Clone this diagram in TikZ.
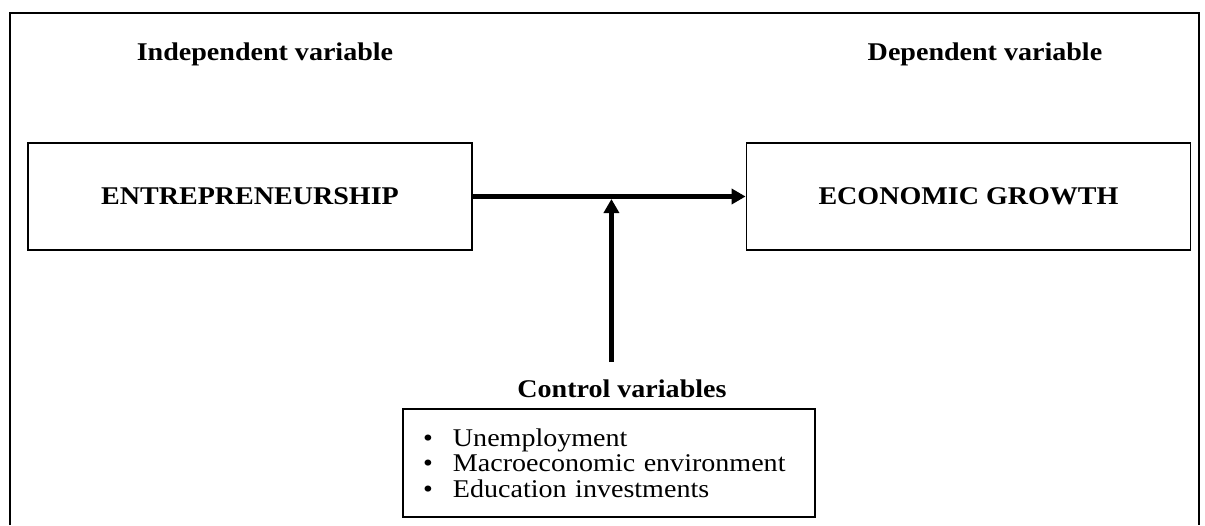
\documentclass[tikz,border=0pt]{standalone}
\usepackage{fontspec}
\setmainfont[FakeStretch=1.1]{Liberation Serif}
\usepackage{tikz}
\usetikzlibrary{
    calc,                   % Midpoint of the main arrow.
    arrows.meta,            % Triangle arrow tips.
    positioning
}

\begin{document}
\begin{tikzpicture}[x=1pt, y=-1pt, line width=1.8pt,
        varbox/.style={draw, minimum width=444pt, minimum height=107pt,
            font=\fontsize{25.5}{25.5}\selectfont\bfseries},
        heading/.style={anchor=base, font=\fontsize{25.5}{25.5}\selectfont\bfseries},
        flow/.style={line width=5pt, -{Triangle[length=14pt, width=15pt]}}]
                \useasboundingbox (0,0) rectangle (1205,525);
                \draw (10,525) -- (10,13) -- (1199,13) -- (1199,525);
                \node[heading] (indep) at (265,60) {Independent variable};
                \node[heading] (dep) at (985,60) {Dependent variable};
                \node[varbox] (entre) at (250,196.5) {ENTREPRENEURSHIP};
                \node[varbox] (growth) at (968.5,196.5) {ECONOMIC GROWTH};
                \node[draw, minimum width=412pt, minimum height=108pt,
                    text width=372pt, inner xsep=20pt, align=left,
                    font=\fontsize{25.5}{25.5}\selectfont]
                    (ctrl) at (609,463) {%
                    \makebox[30pt][l]{\textbullet}Unemployment\\
                    \makebox[30pt][l]{\textbullet}Macroeconomic environment\\
                    \makebox[30pt][l]{\textbullet}Education investments};
                \node[heading] (ctrllabel) at (622,397) {Control variables};
                \coordinate (meet) at ($(entre.east)!0.508!(growth.west)+(0,2.5)$);
                \coordinate (foot) at (meet |- 0,362);
                \draw[flow] (entre.east) to (growth.west);
                \draw[flow] (foot) to (meet);
            \end{tikzpicture}
\end{document}
